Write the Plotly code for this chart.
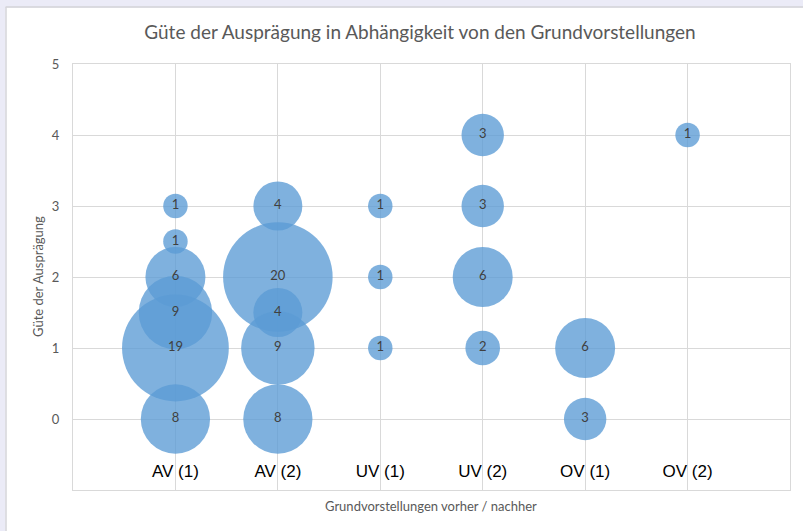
import plotly.graph_objects as go

# Data
categories = ["AV (1)", "AV (2)", "UV (1)", "UV (2)", "OV (1)", "OV (2)"]
cat_pos = [1, 2, 3, 4, 5, 6]

bubble_x = [1, 1, 1, 1, 1, 1,
            2, 2, 2, 2, 2,
            3, 3, 3,
            4, 4, 4, 4,
            5, 5,
            6]
bubble_y = [3, 2.5, 2, 1.5, 1, 0,
            3, 2, 1.5, 1, 0,
            3, 2, 1,
            4, 3, 2, 1,
            1, 0,
            4]
bubble_n = [1, 1, 6, 9, 19, 8,
            4, 20, 4, 9, 8,
            1, 1, 1,
            3, 3, 6, 2,
            6, 3,
            1]

y_ticks = [0, 1, 2, 3, 4, 5]
x_grid = [0, 1, 2, 3, 4, 5, 6, 7]
label_y = -0.76

W, H = 803, 531
ML, MR, MT, MB = 73, 13, 64, 41

fig = go.Figure()

fig.add_trace(go.Scatter(
    x=bubble_x, y=bubble_y,
    mode="markers+text",
    text=[str(v) for v in bubble_n],
    textposition="middle center",
    textfont=dict(family="Lato, Open Sans, sans-serif", size=13, color="#404040"),
    marker=dict(
        size=bubble_n,
        sizemode="area",
        sizeref=1 / 300,
        color="rgba(91,155,213,0.78)",
        opacity=1,
        line=dict(width=0),
    ),
    hoverinfo="skip",
    showlegend=False,
    cliponaxis=False,
))

# category labels inside the plot area
fig.add_trace(go.Scatter(
    x=cat_pos, y=[label_y] * len(cat_pos),
    mode="text",
    text=categories,
    textposition="middle center",
    textfont=dict(family="Liberation Sans, Arial, sans-serif", size=17, color="#000000"),
    hoverinfo="skip",
    showlegend=False,
))

pw = W - ML - MR
ph = H - MT - MB

def px_to_paper_x(px):
    return (px - ML) / pw

def py_to_paper_y(py):
    return (H - MB - py) / ph

shapes = [
    # top lavender band
    dict(type="rect", xref="paper", yref="paper",
         x0=px_to_paper_x(0), x1=px_to_paper_x(W),
         y0=py_to_paper_y(6.5), y1=py_to_paper_y(0),
         fillcolor="#ebebf7", line=dict(width=0), layer="above"),
    # left lavender band
    dict(type="rect", xref="paper", yref="paper",
         x0=px_to_paper_x(0), x1=px_to_paper_x(5.5),
         y0=py_to_paper_y(H), y1=py_to_paper_y(0),
         fillcolor="#ebebf7", line=dict(width=0), layer="above"),
    # frame lines
    dict(type="line", xref="paper", yref="paper",
         x0=px_to_paper_x(5.5), x1=px_to_paper_x(W),
         y0=py_to_paper_y(7), y1=py_to_paper_y(7),
         line=dict(color="#cfcfd6", width=1.5), layer="above"),
    dict(type="line", xref="paper", yref="paper",
         x0=px_to_paper_x(6), x1=px_to_paper_x(6),
         y0=py_to_paper_y(7), y1=py_to_paper_y(H),
         line=dict(color="#d4d4da", width=1.5), layer="above"),
]

annotations = [
    dict(text="Güte der Ausprägung", xref="paper", yref="paper",
         x=px_to_paper_x(38), y=py_to_paper_y(277), textangle=-90,
         showarrow=False, xanchor="center", yanchor="middle",
         font=dict(family="Lato, Open Sans, sans-serif", size=13, color="#595959")),
    dict(text="Grundvorstellungen vorher / nachher", xref="paper", yref="paper",
         x=px_to_paper_x(431), y=py_to_paper_y(506),
         showarrow=False, xanchor="center", yanchor="middle",
         font=dict(family="Lato, Open Sans, sans-serif", size=13, color="#595959")),
]

fig.update_layout(
    width=W, height=H,
    margin=dict(l=ML, r=MR, t=MT, b=MB, pad=0),
    paper_bgcolor="white",
    plot_bgcolor="white",
    title=dict(
        text="Güte der Ausprägung in Abhängigkeit von den Grundvorstellungen",
        x=px_to_paper_x(420), xref="paper", xanchor="center",
        y=1 - 32 / H, yanchor="middle",
        font=dict(family="Lato, Open Sans, sans-serif", size=19, color="#595959"),
    ),
    xaxis=dict(
        range=[0, 7],
        tickvals=x_grid,
        showticklabels=False,
        showgrid=True, gridcolor="#d9d9d9", gridwidth=1,
        zeroline=False,
        showline=True, linecolor="#d9d9d9", linewidth=1, mirror=True,
        ticks="",
        automargin=False,
        fixedrange=True,
    ),
    yaxis=dict(
        range=[-1, 5],
        tickvals=y_ticks,
        showgrid=True, gridcolor="#d9d9d9", gridwidth=1,
        zeroline=False,
        showline=True, linecolor="#d9d9d9", linewidth=1, mirror=True,
        ticks="",
        ticklabelstandoff=10,
        tickfont=dict(family="Lato, Open Sans, sans-serif", size=13, color="#595959"),
        automargin=False,
        fixedrange=True,
    ),
    shapes=shapes,
    annotations=annotations,
)

fig.write_html("out.html", config={"displayModeBar": False},
               post_script="document.body.style.margin='0';")
